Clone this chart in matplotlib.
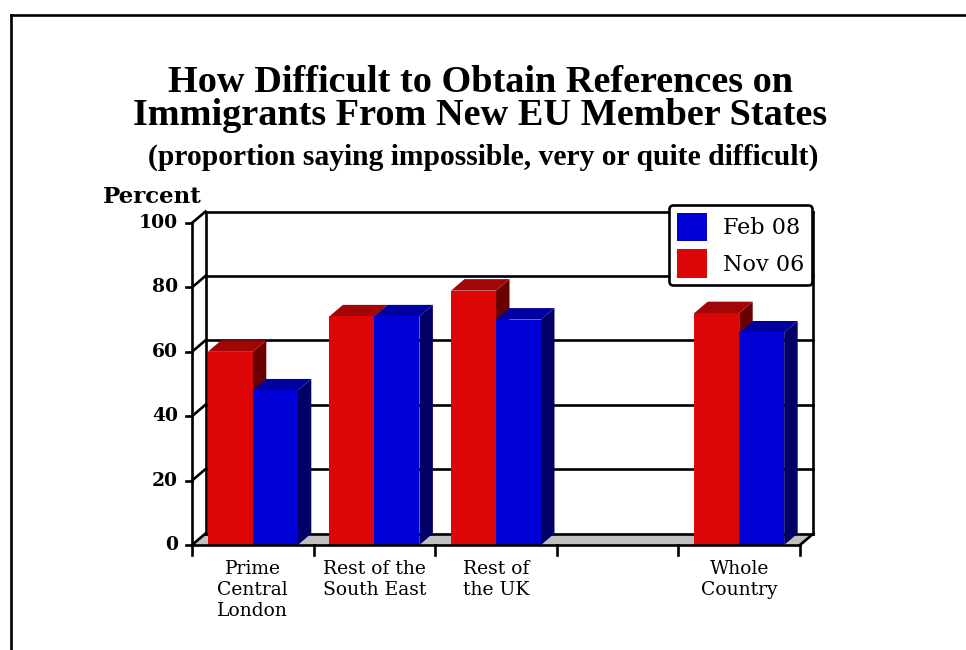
import matplotlib.pyplot as plt
from matplotlib.patches import Rectangle, Polygon
from matplotlib.lines import Line2D

# survey results, percent saying impossible / very / quite difficult
categories = ["Prime\nCentral\nLondon", "Rest of the\nSouth East", "Rest of\nthe UK", "", "Whole\nCountry"]
nov06 = [60, 71, 79, None, 72]
feb08 = [48, 71, 70, None, 66]
yticks = [0, 20, 40, 60, 80, 100]

RED, RED_TOP, RED_SIDE = "#dd0606", "#a30606", "#6b0000"
BLUE, BLUE_TOP, BLUE_SIDE = "#0000d6", "#0000a0", "#000066"
FLOOR = "#c0c0c0"

W, H = 966, 650
fig = plt.figure(figsize=(W / 100, H / 100), dpi=100)

# front face of the 3-d box in pixels
x0, x1 = 192, 800
ybot, ytop = 545, 223
ax = fig.add_axes([x0 / W, 1 - ybot / H, (x1 - x0) / W, (ybot - ytop) / H])
ax.set_xlim(0, 5)
ax.set_ylim(0, 100)
ax.axis("off")

px_x = 5 / (x1 - x0)        # data units per pixel
px_y = 100 / (ybot - ytop)
DX = 13.5 * px_x            # depth offset
DY = 11.5 * px_y
LW = 1.9


def line(xs, ys, **kw):
    ax.add_line(Line2D(xs, ys, color="black", lw=kw.pop("lw", LW),
                       clip_on=False, solid_capstyle="projecting", **kw))


# floor
ax.add_patch(Polygon([(0, 0), (5, 0), (5 + DX, DY), (DX, DY)], closed=True,
                     facecolor=FLOOR, edgecolor="none", clip_on=False, zorder=1))
line([DX, 5 + DX], [DY, DY], zorder=2)

# back wall grid + ticks
for t in yticks:
    if t > 0:
        line([DX, 5 + DX], [t + DY, t + DY], zorder=2)
    line([0, DX], [t, t + DY], zorder=2)
    line([-6 * px_x, 0], [t, t], zorder=2)
    ax.text(-14 * px_x, t, str(t), ha="right", va="center", fontsize=13.5,
            fontweight="bold", family="DejaVu Serif")
line([DX, DX], [DY, 100 + DY], zorder=2)
line([5 + DX, 5 + DX], [DY, 100 + DY], zorder=2)
line([0, 0], [0, 100], zorder=2)

# bars
bw = 0.37


def bar3d(x, v, front, top, side):
    ax.add_patch(Polygon([(x + bw, 0), (x + bw + DX, DY), (x + bw + DX, v + DY), (x + bw, v)],
                         closed=True, facecolor=side, edgecolor="none", clip_on=False, zorder=3))
    ax.add_patch(Polygon([(x, v), (x + bw, v), (x + bw + DX, v + DY), (x + DX, v + DY)],
                         closed=True, facecolor=top, edgecolor="none", clip_on=False, zorder=3))
    r = Rectangle((x, 0), bw, v, facecolor=front, edgecolor="none", clip_on=False, zorder=3)
    ax.add_patch(r)
    return r


h_nov = h_feb = None
for i in range(len(categories)):
    c = i + 0.5
    if nov06[i] is not None:
        h_nov = bar3d(c - bw, nov06[i], RED, RED_TOP, RED_SIDE)
    if feb08[i] is not None:
        h_feb = bar3d(c, feb08[i], BLUE, BLUE_TOP, BLUE_SIDE)

# front floor edge and category ticks
line([0, 5], [0, 0], zorder=4)
line([5, 5 + DX], [0, DY], zorder=4)
for i in range(6):
    line([i, i], [0, -10 * px_y], zorder=4)
for i, lab in enumerate(categories):
    ax.text(i + 0.5, -15 * px_y, lab, ha="center", va="top", fontsize=13.5,
            family="DejaVu Serif", linespacing=1.22)

ax.text(-89 * px_x, 108, "Percent", ha="left", va="center", fontsize=16.5,
        fontweight="bold", family="DejaVu Serif")

leg = ax.legend([h_feb, h_nov], ["Feb 08", "Nov 06"], loc="upper left",
                bbox_to_anchor=(669 / W, 1 - 205 / H), bbox_transform=fig.transFigure,
                prop={"family": "DejaVu Serif", "size": 16}, handlelength=1.35,
                handleheight=1.6, handletextpad=0.75, borderpad=0.35, labelspacing=0.35,
                borderaxespad=0, fancybox=True, framealpha=1, edgecolor="black")
leg.get_frame().set_linewidth(LW)
leg.set_zorder(5)

# title block
fig.text(480 / W, 1 - 92 / H, "How Difficult to Obtain References on", ha="center",
         va="baseline", fontsize=27.5, fontweight="bold", family="Liberation Serif")
fig.text(480 / W, 1 - 125 / H, "Immigrants From New EU Member States", ha="center",
         va="baseline", fontsize=27.5, fontweight="bold", family="Liberation Serif")
fig.text(483 / W, 1 - 165 / H, "(proportion saying impossible, very or quite difficult)",
         ha="center", va="baseline", fontsize=21.3, fontweight="bold", family="Liberation Serif")

# outer frame
fig.add_artist(Line2D([11 / W, 1.0], [1 - 15 / H, 1 - 15 / H], color="black", lw=LW,
                      transform=fig.transFigure))
fig.add_artist(Line2D([11 / W, 11 / W], [1 - 15 / H, 0], color="black", lw=LW,
                      transform=fig.transFigure))

fig.savefig("out.png", dpi=100)
